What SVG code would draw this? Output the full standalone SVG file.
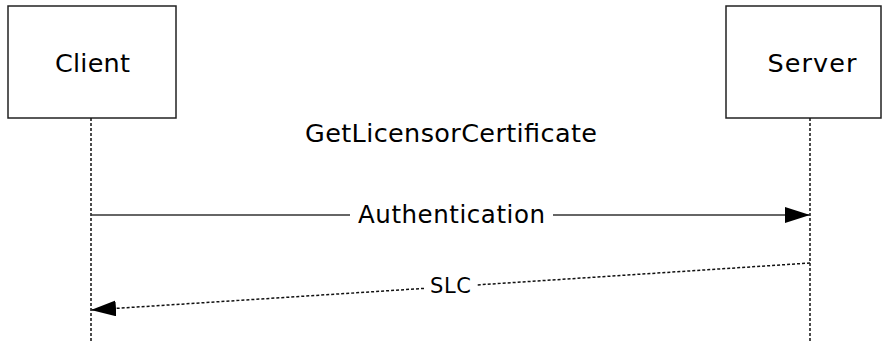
<svg xmlns="http://www.w3.org/2000/svg" width="882" height="341" viewBox="0 0 882 341">
<defs>
<style>
.box{fill:#fff;stroke:#222;stroke-width:1.5}
.life{stroke:#111;stroke-width:1.5;stroke-dasharray:3 2;fill:none}
.msg{stroke:#333;stroke-width:1.5;fill:none}
.ret{stroke:#111;stroke-width:1.5;stroke-dasharray:3 2;fill:none}
text{font-family:"DejaVu Sans",Verdana,sans-serif;fill:#000;text-anchor:middle}
</style>
<marker id="ah" viewBox="0 0 25 16" refX="25" refY="8" markerWidth="25" markerHeight="16" markerUnits="userSpaceOnUse" orient="auto">
<path d="M0,0 L25,8 L0,16 Z" fill="#000"/>
</marker>
</defs>
<g id="client">
<rect class="box" x="8" y="6" width="168" height="112"/>
<text x="92.5" y="72" font-size="25.5" textLength="75" lengthAdjust="spacing">Client</text>
</g>
<g id="server">
<rect class="box" x="726" y="6" width="155" height="112"/>
<text x="812" y="72" font-size="25.5" textLength="89" lengthAdjust="spacing">Server</text>
</g>
<g id="connectors">
<line class="life" x1="91" y1="118" x2="91" y2="341"/>
<line class="life" x1="810" y1="118" x2="810" y2="341"/>
<line class="msg" x1="91" y1="215" x2="350" y2="215"/>
<line class="msg" x1="553" y1="215" x2="810" y2="215" marker-end="url(#ah)"/>
<line class="ret" x1="810" y1="263" x2="476" y2="285"/>
<line class="ret" x1="424" y1="288.4" x2="91" y2="310" marker-end="url(#ah)"/>
</g>
<g id="labels">
<text x="451" y="142" font-size="25.5" textLength="292" lengthAdjust="spacing">GetLicensorCertificate</text>
<text x="451.5" y="223" font-size="24.5" textLength="187" lengthAdjust="spacing">Authentication</text>
<text x="450.5" y="293" font-size="21" textLength="41" lengthAdjust="spacing">SLC</text>
</g>
</svg>
